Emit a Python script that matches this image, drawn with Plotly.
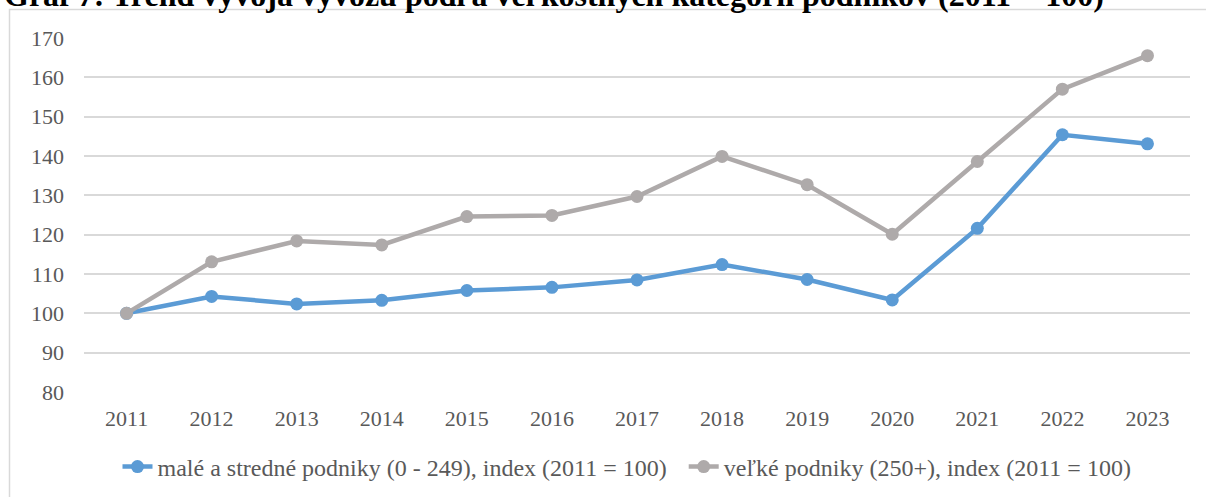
import plotly.graph_objects as go

years = ["2011", "2012", "2013", "2014", "2015", "2016", "2017", "2018", "2019", "2020", "2021", "2022", "2023"]
sme_index = [100, 104.3, 102.4, 103.3, 105.8, 106.6, 108.5, 112.4, 108.6, 103.4, 121.6, 145.4, 143.1]
large_index = [100, 113.1, 118.4, 117.4, 124.6, 124.9, 129.7, 139.9, 132.7, 120.1, 138.6, 157.0, 165.5]
y_ticks = [80, 90, 100, 110, 120, 130, 140, 150, 160, 170]

title_text = "Graf 7: Trend vývoja vývozu podľa veľkostných kategórií podnikov (2011 = 100)"
name_sme = "malé a stredné podniky (0 - 249), index (2011 = 100)"
name_large = "veľké podniky (250+), index (2011 = 100)"

FONT = "Liberation Serif"
TXT = "#595959"
W, H = 1206, 497
L, R, T, B = 84, 16, 38, 105
pw, ph = W - L - R, H - T - B

fig = go.Figure()
fig.add_trace(go.Scatter(
    x=years, y=sme_index, name=name_sme + "\u00a0\u00a0", mode="lines+markers",
    line=dict(color="#5B9BD5", width=4.5),
    marker=dict(color="#5B9BD5", size=13),
))
fig.add_trace(go.Scatter(
    x=years, y=large_index, name=name_large, mode="lines+markers",
    line=dict(color="#AEAAAA", width=4.5),
    marker=dict(color="#AEAAAA", size=13),
))

# chart frame
fig.add_shape(type="rect", xref="paper", yref="paper",
              x0=(9.5 - L) / pw, x1=(W + 5 - L) / pw,
              y0=(T + ph - (H + 5)) / ph, y1=(T + ph - 9.5) / ph,
              line=dict(color="#D9D9D9", width=1.5), fillcolor="rgba(0,0,0,0)", layer="below")

fig.add_annotation(text="<b>" + title_text + "</b>", xref="paper", yref="paper",
                   x=(2 - L) / pw, y=1, xanchor="left", yanchor="bottom", yshift=23,
                   showarrow=False, font=dict(family=FONT, size=32, color="#000000"))

fig.update_layout(
    width=W, height=H,
    margin=dict(l=L, r=R, t=T, b=B, autoexpand=False),
    paper_bgcolor="white", plot_bgcolor="white",
    font=dict(family=FONT, size=22, color=TXT),
    showlegend=True,
    legend=dict(orientation="h", x=(627 - L) / pw, xanchor="center", y=(392 - 467) / ph, yanchor="middle",
                font=dict(family=FONT, size=24, color=TXT), itemwidth=30),
    xaxis=dict(type="category", range=[-0.5, 12.5], showgrid=False, showline=False, automargin=False,
               ticks="", ticklabelstandoff=11, tickfont=dict(family=FONT, size=22, color=TXT)),
    yaxis=dict(range=[80, 170], tickvals=y_ticks, showgrid=True, gridcolor="#D9D9D9", gridwidth=1.5,
               zeroline=False, showline=False, ticks="", ticklabelstandoff=19, automargin=False,
               tickfont=dict(family=FONT, size=22, color=TXT)),
)

fig.write_html("out.html", config={"displayModeBar": False},
               post_script="document.body.style.margin='0';document.body.style.padding='0';")
